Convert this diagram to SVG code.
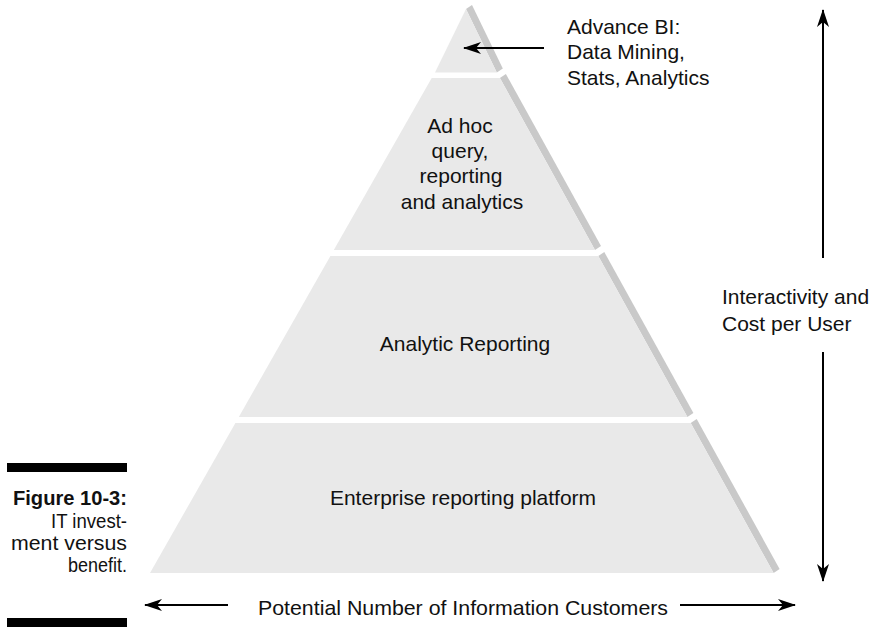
<svg xmlns="http://www.w3.org/2000/svg" width="878" height="628" viewBox="0 0 878 628">
<style>
.face{fill:#e9e9e9}
.side{fill:#c9c9c9}
.lbl{font-family:"Liberation Sans",Arial,sans-serif;font-size:21px;fill:#111}
.cap{font-family:"Liberation Sans",Arial,sans-serif;font-size:20px;fill:#111}
.conn{stroke:#000;stroke-width:2;fill:none}
</style>
<defs>
<marker id="ah" viewBox="0 0 18 12" refX="17" refY="6" markerWidth="18" markerHeight="12" markerUnits="userSpaceOnUse" orient="auto">
<path d="M0,0 L18,6 L0,12 L5,6 Z" fill="#000"/>
</marker>
</defs>
<rect width="878" height="628" fill="#fff"/>
<g id="tier-advance">
<polygon class="side" points="466,9 496.8,72.5 502.8,68.5 472,5"/>
<polygon class="face" points="466,9 496.8,72.5 435,72.5"/>
</g>
<g id="tier-adhoc">
<polygon class="side" points="499.9,78 595,250 601,246 505.9,74"/>
<polygon class="face" points="431.7,78 499.9,78 595,250 333.8,250"/>
<text class="lbl" text-anchor="middle" x="460" y="133">Ad hoc</text>
<text class="lbl" text-anchor="middle" x="460" y="158">query,</text>
<text class="lbl" text-anchor="middle" x="461" y="183">reporting</text>
<text class="lbl" text-anchor="middle" x="462" y="209">and analytics</text>
</g>
<g id="tier-analytic">
<polygon class="side" points="598.3,256 687.4,417 693.4,413 604.3,252"/>
<polygon class="face" points="330.4,256 598.3,256 687.4,417 238.8,417"/>
<text class="lbl" text-anchor="middle" x="465" y="351">Analytic Reporting</text>
</g>
<g id="tier-enterprise">
<polygon class="side" points="690.7,423 773.6,573 779.6,569 696.7,419"/>
<polygon class="face" points="235.4,423 690.7,423 773.6,573 150,573"/>
<text class="lbl" text-anchor="middle" x="463" y="505">Enterprise reporting platform</text>
</g>
<g id="label-advance">
<text class="lbl" x="567" y="34">Advance BI:</text>
<text class="lbl" x="567" y="59">Data Mining,</text>
<text class="lbl" x="567" y="85">Stats, Analytics</text>
</g>
<g id="label-interactivity">
<text class="lbl" x="722" y="304">Interactivity and</text>
<text class="lbl" x="722" y="331">Cost per User</text>
</g>
<g id="label-customers">
<text class="lbl" x="258" y="615" font-size="26" textLength="410" lengthAdjust="spacingAndGlyphs">Potential Number of Information Customers</text>
</g>
<g id="caption">
<rect x="7" y="463" width="120" height="9" fill="#000"/>
<rect x="7" y="618" width="120" height="9" fill="#000"/>
<text class="cap" font-size="21" font-weight="bold" text-anchor="end" x="127" y="505" textLength="114" lengthAdjust="spacingAndGlyphs">Figure 10-3:</text>
<text class="cap" text-anchor="end" x="127" y="528" textLength="76" lengthAdjust="spacingAndGlyphs">IT invest-</text>
<text class="cap" text-anchor="end" x="127" y="550" textLength="116" lengthAdjust="spacingAndGlyphs">ment versus</text>
<text class="cap" text-anchor="end" x="127" y="572" textLength="59" lengthAdjust="spacingAndGlyphs">benefit.</text>
</g>
<g id="connectors">
<line class="conn" x1="544" y1="48" x2="464" y2="48" marker-end="url(#ah)"/>
<line class="conn" x1="823" y1="258" x2="823" y2="10" marker-end="url(#ah)"/>
<line class="conn" x1="823" y1="352" x2="823" y2="581" marker-end="url(#ah)"/>
<line class="conn" x1="228" y1="605" x2="145" y2="605" marker-end="url(#ah)"/>
<line class="conn" x1="680" y1="605" x2="795" y2="605" marker-end="url(#ah)"/>
</g>
</svg>
